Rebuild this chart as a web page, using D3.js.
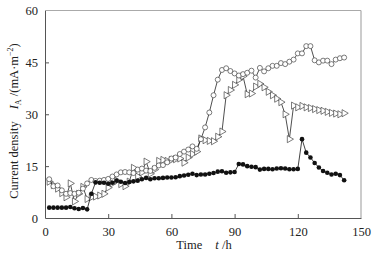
<!DOCTYPE html>
<html>
  <head>
    <script src="https://d3js.org/d3.v7.min.js"></script>
    <style>
      body { margin: 0; background: #fff; }
      text { font-family: "Liberation Serif", "Times New Roman", serif; }
    </style>
  </head>
  <body>
    <div id="chart"></div>
    <script>
      // time points, every 2 h
      var hours = d3.range(2, 143, 2);

      var filled = [3.0, 3.0, 3.0, 3.0, 3.0, 3.2, 2.8, 2.6, 2.9, 2.5,
        7.0, 10.3, 10.2, 10.2, 9.9, 10.2, 10.8, 10.5, 10.1, 10.4,
        10.6, 10.8, 11.2, 11.6, 11.2, 11.5, 11.5, 11.6, 11.7, 11.7,
        11.8, 12.1, 12.3, 12.5, 12.8, 12.4, 12.6, 12.6, 12.8, 13.0,
        13.4, 13.5, 13.1, 13.2, 13.3, 15.6, 15.5, 15.0, 14.8, 14.7,
        14.0, 14.2, 14.2, 14.1, 14.3, 14.4, 14.3, 14.1, 14.1, 14.2,
        22.8, 18.9, 17.5, 15.9, 14.6, 13.6, 13.1, 12.6, 12.8, 12.4, 10.9];

      var circles = [11.2, 9.2, 9.4, 8.0, 7.0, 7.2, 7.0, 7.3, 8.5, 10.0,
        11.0, 10.7, 10.8, 11.0, 11.3, 12.0, 12.6, 13.2, 13.3, 13.2,
        13.0, 14.0, 14.3, 13.7, 13.6, 14.5, 15.2, 15.3, 16.1, 17.2,
        17.5, 18.5, 19.2, 19.8, 20.7, 20.0, 22.8, 26.2, 30.5, 35.5,
        40.0, 42.8, 43.3, 42.5, 41.8, 41.2, 41.6, 42.0, 42.6, 40.6,
        43.4, 42.4, 43.3, 44.0, 44.0, 44.8, 44.5, 45.2, 45.8, 47.6,
        47.6, 49.7, 49.7, 45.6, 45.0, 45.5, 45.5, 44.5, 45.8, 46.2, 46.4];

      var triangles = [10.5, 9.5, 8.5, 7.2, 6.0, 10.0, 4.8, 7.0, 9.0, 5.5,
        6.0, 6.2, 6.5, 7.0, 8.8, 10.0, 10.8, 9.8, 9.2, 10.5,
        14.5, 12.0, 13.2, 16.3, 12.8, 14.0, 16.5, 16.8, 16.5, 16.8,
        17.0, 17.2, 16.0, 17.5, 18.5, 19.2, 23.0, 22.5, 22.3, 22.2,
        23.5, 25.0, 35.5, 37.0, 38.5, 40.0, 41.0, 35.8, 36.0, 38.0,
        38.8, 37.8, 36.5, 35.5, 34.5, 33.5, 30.0, 22.8, 32.5, 32.0,
        32.4, 32.0, 31.8, 31.5, 31.2, 31.0, 30.7, 30.4, 30.2, 30.0, 30.3];

      var xTicks = [0, 30, 60, 90, 120, 150];
      var yTicks = [0, 15, 30, 45, 60];

      var W = 375, H = 258;
      var margin = { top: 10.5, right: 14, bottom: 40, left: 45 };
      var width = W - margin.left - margin.right;
      var height = H - margin.top - margin.bottom;

      var svg = d3.select("#chart").append("svg")
        .attr("width", W).attr("height", H);
      var g = svg.append("g")
        .attr("transform", "translate(" + margin.left + "," + margin.top + ")");

      var x = d3.scaleLinear().domain([0, 150]).range([0, width]);
      var y = d3.scaleLinear().domain([0, 60]).range([height, 0]);

      // frame: top and right in light gray
      g.append("line").attr("x1", 0).attr("x2", width).attr("y1", 0).attr("y2", 0)
        .attr("stroke", "#aaa").attr("stroke-width", 1);
      g.append("line").attr("x1", width).attr("x2", width).attr("y1", 0).attr("y2", height)
        .attr("stroke", "#aaa").attr("stroke-width", 1.2);

      // x axis with inward ticks
      var xAxis = g.append("g").attr("transform", "translate(0," + height + ")")
        .call(d3.axisBottom(x).tickValues(xTicks).tickSizeInner(-4).tickSizeOuter(0).tickPadding(9));
      // y axis with inward ticks
      var yAxis = g.append("g")
        .call(d3.axisLeft(y).tickValues(yTicks).tickSizeInner(-4).tickSizeOuter(0).tickPadding(7));

      [xAxis, yAxis].forEach(function (a) {
        a.select(".domain").attr("stroke", "#555");
        a.selectAll(".tick line").attr("stroke", "#555");
        a.selectAll(".tick text").attr("font-size", "12.5px").attr("fill", "#222")
          .attr("font-family", "Liberation Serif, serif");
      });
      // no inner tick marks on end values
      xAxis.selectAll(".tick").filter(function (d) { return d === 0 || d === 150; })
        .select("line").remove();
      yAxis.selectAll(".tick").filter(function (d) { return d === 0 || d === 60; })
        .select("line").remove();

      function series(vals) {
        return hours.map(function (t, i) { return { t: t, v: vals[i] }; });
      }

      var line = d3.line().x(function (d) { return x(d.t); }).y(function (d) { return y(d.v); });

      var plot = g.append("g");

      // triangles (open, right pointing)
      var triData = series(triangles);
      plot.append("path").datum(triData).attr("d", line)
        .attr("fill", "none").attr("stroke", "#222").attr("stroke-width", 0.8);
      var tri = d3.symbol().type(d3.symbolTriangle).size(22);
      plot.selectAll("path.tri").data(triData).enter().append("path")
        .attr("class", "tri")
        .attr("d", tri)
        .attr("transform", function (d) { return "translate(" + x(d.t) + "," + y(d.v) + ") rotate(90)"; })
        .attr("fill", "#fff").attr("stroke", "#444").attr("stroke-width", 0.7);

      // open circles
      var cirData = series(circles);
      plot.append("path").datum(cirData).attr("d", line)
        .attr("fill", "none").attr("stroke", "#222").attr("stroke-width", 0.8);
      plot.selectAll("circle.open").data(cirData).enter().append("circle")
        .attr("class", "open")
        .attr("cx", function (d) { return x(d.t); })
        .attr("cy", function (d) { return y(d.v); })
        .attr("r", 2.5)
        .attr("fill", "#fff").attr("stroke", "#444").attr("stroke-width", 0.7);

      // filled circles
      var filData = series(filled);
      plot.append("path").datum(filData).attr("d", line)
        .attr("fill", "none").attr("stroke", "#111").attr("stroke-width", 0.8);
      plot.selectAll("circle.fill").data(filData).enter().append("circle")
        .attr("class", "fill")
        .attr("cx", function (d) { return x(d.t); })
        .attr("cy", function (d) { return y(d.v); })
        .attr("r", 2.3)
        .attr("fill", "#111");

      // axis titles
      var xt = svg.append("text")
        .attr("x", 204).attr("y", 249)
        .attr("text-anchor", "middle").attr("font-size", "12.5px").attr("fill", "#222");
      xt.append("tspan").text("Time");
      xt.append("tspan").attr("dx", "13").attr("font-style", "italic").text("t");
      xt.append("tspan").text(" /h");

      var yt = svg.append("text")
        .attr("transform", "translate(18,121) rotate(-90)")
        .attr("text-anchor", "middle").attr("font-size", "12.5px").attr("fill", "#222");
      yt.append("tspan").text("Current density");
      yt.append("tspan").attr("dx", "12").attr("font-style", "italic").text("I");
      yt.append("tspan").attr("font-size", "8px").attr("dy", "3").text("A");
      yt.append("tspan").attr("dy", "-3").text(" /(mA·m");
      yt.append("tspan").attr("font-size", "8px").attr("dy", "-5").text("−2");
      yt.append("tspan").attr("dy", "5").text(")");
    </script>
  </body>
</html>
